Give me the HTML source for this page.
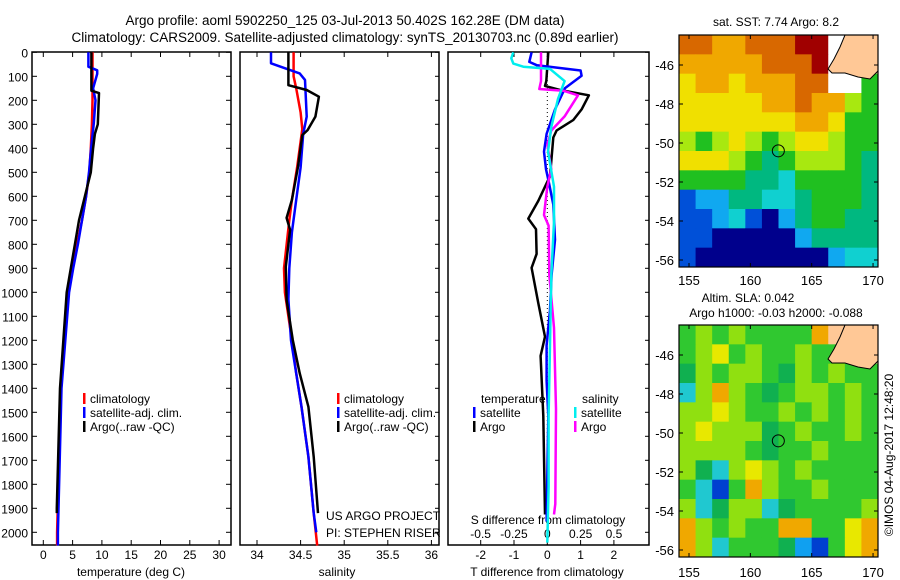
<!DOCTYPE html>
<html><head><meta charset="utf-8"><style>
body{margin:0;background:#fff;}
svg{display:block;font-family:"Liberation Sans",sans-serif;}
text{fill:#000;}
</style></head><body>
<svg id="s" width="900" height="580" viewBox="0 0 900 580">
<text x="345" y="25" font-size="13.5" text-anchor="middle">Argo profile: aoml 5902250_125 03-Jul-2013 50.402S 162.28E (DM data)</text>
<text x="345" y="42" font-size="13.5" text-anchor="middle">Climatology: CARS2009. Satellite-adjusted climatology: synTS_20130703.nc (0.89d earlier)</text>
<g id="g"></g>
</svg>
<script>
// ---- profile data (depth m, value) ----
const tempClimD=[0,80,200,300,400,500,600,700,800,900,1000,1400,2000,2055];
const tempClimV=[8.4,8.4,8.4,8.3,8.1,7.85,7.3,6.6,5.75,5.0,4.3,3.0,2.35,2.35];
const tempSatD=[0,60,75,90,150,200,300,400,500,600,700,800,900,1000,1400,2000,2055];
const tempSatV=[7.7,7.7,9.2,9.2,8.5,8.9,8.6,8.15,7.8,7.3,6.6,5.9,5.1,4.4,3.1,2.5,2.5];
const tempArgoD=[0,160,170,300,340,400,500,600,700,800,900,1000,1400,1900,1920];
const tempArgoV=[8.2,8.2,9.5,9.3,8.8,8.5,8.1,7.1,6.1,5.4,4.7,4.0,2.85,2.3,2.3];
const salClimD=[0,100,150,250,320,480,615,700,900,1000,1200,1337,1477,1685,1920,2055];
const salClimV=[34.42,34.42,34.45,34.5,34.52,34.46,34.4,34.37,34.31,34.32,34.4,34.45,34.51,34.59,34.65,34.69];
const salSatD=[0,46,74,88,115,268,340,480,615,750,900,1030,1200,1337,1477,1685,1920,2000];
const salSatV=[34.16,34.16,34.38,34.49,34.55,34.57,34.53,34.5,34.45,34.4,34.37,34.36,34.39,34.45,34.51,34.59,34.65,34.68];
const salArgoD=[0,137,157,185,268,324,345,477,615,690,740,893,1032,1199,1337,1477,1685,1920];
const salArgoV=[34.36,34.36,34.57,34.71,34.67,34.58,34.52,34.47,34.4,34.34,34.38,34.33,34.34,34.41,34.49,34.59,34.65,34.7];
const dTSatD=[0,40,54,76,98,150,238,340,414,487,531,634,781,928,1074,1221,1368,1515,1955];
const dTSatV=[-0.47,-0.54,-0.31,1.0,1.03,0.53,0.23,-0.02,-0.1,-0.04,0.03,0.18,0.23,0.13,0.08,-0.02,-0.02,0.03,-0.02];
const dTArgoD=[0,120,140,157,179,238,282,326,355,517,546,619,693,737,840,898,1045,1185,1265,1515,1926];
const dTArgoV=[0.03,-0.03,-0.07,0.38,1.25,1.03,0.78,0.28,0.18,0.08,-0.02,-0.27,-0.57,-0.34,-0.32,-0.47,-0.27,-0.07,-0.2,-0.12,-0.07];
const dSSatD=[0,25,47,60,69,120,194,311,414,560,707,928,1221,1515,1810,2043];
const dSSatV=[-0.255,-0.27,-0.255,-0.18,0.02,0.13,0.08,0.03,0.005,0.05,0.05,0.03,0.02,0.01,0.01,0.0];
const dSArgoD=[0,120,153,160,179,267,326,385,487,560,678,722,928,1148,1370,1486,1882,1926];
const dSArgoV=[-0.047,-0.047,-0.06,0.12,0.23,0.13,0.03,0.0,0.03,0.0,-0.025,0.01,0.015,0.05,0.06,0.065,0.06,0.05];
const depthTicks=[0,100,200,300,400,500,600,700,800,900,1000,1100,1200,1300,1400,1500,1600,1700,1800,1900,2000];
const tempTicks=[0,5,10,15,20,25,30];
const salTicks=[34,34.5,35,35.5,36];
const salTickLabels=["34","34.5","35","35.5","36"];
const dTTicks=[-2,-1,0,1,2];
const dSTicks=[-0.5,-0.25,0,0.25,0.5];
const dSTickLabels=["-0.5","-0.25","0","0.25","0.5"];
// ---- map data (colour level per cell, -1 land, -2 no data) ----
const sstGrid=[
[9,9,8,8,9,9,9,10,10,-2,-1,-1],
[8,8,8,8,8,9,9,9,10,-2,-1,-1],
[7,8,8,7,8,8,8,9,9,-2,-2,5],
[7,7,7,7,7,8,8,9,8,8,6,5],
[7,7,7,7,7,7,7,8,8,7,5,5],
[6,5,6,7,6,5,6,7,7,6,5,5],
[7,7,7,6,5,4,5,6,6,6,5,4],
[5,5,5,5,4,4,3,5,5,5,5,4],
[1,2,2,4,4,3,3,4,5,5,5,4],
[1,1,2,3,1,0,2,4,5,5,4,4],
[1,1,0,0,0,0,0,2,4,4,4,4],
[1,0,0,0,0,0,0,0,0,2,3,3]];
const slaGrid=[
[5,6,5,6,5,5,5,5,8,-1,-1,-1],
[5,6,7,5,6,5,5,6,5,5,-1,-1],
[4,6,5,6,6,5,4,6,5,6,5,5],
[3,6,8,6,5,4,5,6,6,5,6,5],
[6,6,7,6,5,5,6,5,6,5,6,5],
[6,7,6,6,6,4,5,6,5,5,6,5],
[6,6,6,6,5,4,5,5,6,5,5,5],
[6,4,3,6,7,6,5,6,5,5,5,5],
[5,3,1,5,8,6,5,5,6,5,5,5],
[6,3,4,6,6,3,4,5,5,5,5,6],
[8,6,5,6,5,5,8,8,5,5,7,8],
[8,6,3,5,5,5,4,2,1,5,7,8]];
const lonTicks=[155,160,165,170];
const latTicks=[-46,-48,-50,-52,-54,-56];
const argoLon=162.28, argoLat=-50.402;

const NS="http://www.w3.org/2000/svg";
const G=document.getElementById('g');
function el(t,a,p){const e=document.createElementNS(NS,t);for(const k in a)e.setAttribute(k,a[k]);(p||G).appendChild(e);return e;}
function txt(x,y,s,anchor,size){const e=el('text',{x:x,y:y,'font-size':size||12,'text-anchor':anchor||'middle'});e.textContent=s;return e;}
const yD=d=>52.3+d*0.24;
const PT=0,PB=545;
const xT=t=>43.3+t*5.86;
const xS=s=>257+(s-34)*87.2;
const xdT=v=>547.3+v*33.3;
const xdS=v=>547.3+v*133.3;

function frame(x0,x1,name){
  const r=el('rect',{x:x0,y:52,width:x1-x0,height:PB-52,fill:'none',stroke:'#000','stroke-width':1.5});
  
  
}
function line(D,V,fx,col,name){
  let p='';for(let i=0;i<D.length;i++)p+=(i?'L':'M')+fx(V[i]).toFixed(1)+' '+yD(D[i]).toFixed(1);
  const e=el('path',{d:p,fill:'none',stroke:col,'stroke-width':2.5,'stroke-linejoin':'round'});
  
  
}
function xticks(ticks,labels,fx,x0,x1,ly){
  ticks.forEach((t,i)=>{const x=fx(t);
    el('line',{x1:x,y1:52,x2:x,y2:57,stroke:'#000'});el('line',{x1:x,y1:PB,x2:x,y2:PB-5,stroke:'#000'});
    const e=txt(x,ly,labels[i]);
    
    });
}
// panels
frame(32,231,'temperature-panel');frame(240,439,'salinity-panel');frame(448,649,'difference-panel');
depthTicks.forEach(d=>{const y=yD(d);
  el('line',{x1:32,y1:y,x2:37,y2:y,stroke:'#000'});el('line',{x1:231,y1:y,x2:226,y2:y,stroke:'#000'});
  el('line',{x1:439,y1:y,x2:435,y2:y,stroke:'#000'});el('line',{x1:649,y1:y,x2:645,y2:y,stroke:'#000'});
  const e=txt(28,y+5,String(d),'end');
  
  });
xticks(tempTicks,tempTicks.map(String),xT,32,231,559);
xticks(salTicks,salTickLabels,xS,240,439,559);
xticks(dTTicks,dTTicks.map(String),xdT,448,649,559);
dSTicks.forEach((t,i)=>{const e=txt(xdS(t),538,dSTickLabels[i]);
  
  });
let e;
e=txt(131,576,'temperature (deg C)');
e=txt(337,576,'salinity');
e=txt(547,576,'T difference from climatology');
e=txt(548,524,'S difference from climatology');
el('line',{x1:xdT(0),y1:52,x2:xdT(0),y2:PB,stroke:'#000','stroke-dasharray':'1 3'});
line(tempClimD,tempClimV,xT,'#f00','temp-climatology-line');
line(tempSatD,tempSatV,xT,'#00f','temp-satellite-line');
line(tempArgoD,tempArgoV,xT,'#000','temp-argo-line');
line(salClimD,salClimV,xS,'#f00','sal-climatology-line');
line(salSatD,salSatV,xS,'#00f','sal-satellite-line');
line(salArgoD,salArgoV,xS,'#000','sal-argo-line');
line(dTArgoD,dTArgoV,xdT,'#000','tdiff-argo-line');
line(dTSatD,dTSatV,xdT,'#00f','tdiff-satellite-line');
line(dSArgoD,dSArgoV,xdS,'#f0f','sdiff-argo-line');
line(dSSatD,dSSatV,xdS,'#0ee','sdiff-satellite-line');
function leg(x,y,col,s,name){el('rect',{x:x,y:y-10,width:2.5,height:11,fill:col});const e=txt(x+7,y,s,'start');
  
  }
leg(83,403,'#f00','climatology','legend-climatology');leg(83,417,'#00f','satellite-adj. clim.','legend-satellite');leg(83,431,'#000','Argo(..raw -QC)','legend-argo');
leg(337,403,'#f00','climatology','legend-climatology-2');leg(337,417,'#00f','satellite-adj. clim.','legend-satellite-2');leg(337,431,'#000','Argo(..raw -QC)','legend-argo-2');
e=txt(326,520,'US ARGO PROJECT','start');
e=txt(326,537,'PI: STEPHEN RISER','start');
e=txt(481,403,'temperature','start');
e=txt(582,403,'salinity','start');
leg(473,417,'#00f','satellite','legend-t-satellite');leg(473,431,'#000','Argo','legend-t-argo');
leg(574,417,'#0ee','satellite','legend-s-satellite');leg(574,431,'#f0f','Argo','legend-s-argo');
// maps
const sstCol={0:'#00008c',1:'#0050d8',2:'#10a8f0',3:'#10d0d0',4:'#00b880',5:'#20c020',6:'#a8e810',7:'#f0e000',8:'#f0a800',9:'#d86800',10:'#a00000','-1':'#ffc896','-2':'#ffffff'};
const slaCol={1:'#0040d0',2:'#10a0f0',3:'#20c8d0',4:'#10b050',5:'#30c830',6:'#90e010',7:'#e8e800',8:'#f0a800','-1':'#ffc896','-2':'#ffffff'};
function map(grid,cols,top,bot,name,lonY){
  const x0=679,x1=878;
  const fx=l=>689+(l-155)*12.27;
  const fy=la=>top+30+(-46-la)*((bot-top-(30+(bot-top-225)))/10);
  const yLat=la=>{const y46=top+30, y56=bot-7;return y46+(-46-la)*(y56-y46)/10;};
  const g=el('g',{});
  const nr=grid.length,nc=grid[0].length,cw=(x1-x0)/nc,ch=(bot-top)/nr;
  grid.forEach((row,r)=>row.forEach((v,c)=>{const rc=el('rect',{x:x0+c*cw,y:top+r*ch,width:cw+0.5,height:ch+0.5,fill:cols[v]},g);
    
    }));
  el('polygon',{points:`845,${top} 878,${top} 878,${top+36} 870,${top+44} 858,${top+42} 845,${top+38} 832,${top+38} 828,${top+34} 834,${top+24} 840,${top+12}`,fill:'#ffc896',stroke:'#000','stroke-width':1},g);
  el('circle',{cx:fx(argoLon),cy:yLat(argoLat),r:6,fill:'none',stroke:'#000','stroke-width':1},g);
  el('rect',{x:x0,y:top,width:x1-x0,height:bot-top,fill:'none',stroke:'#000','stroke-width':1.2},g);
  lonTicks.forEach(l=>{const x=fx(l);el('line',{x1:x,y1:top,x2:x,y2:top+4,stroke:'#000'});el('line',{x1:x,y1:bot,x2:x,y2:bot-4,stroke:'#000'});
    const t=txt(x,lonY,String(l),'middle',13);
    
    });
  latTicks.forEach(la=>{const y=yLat(la);el('line',{x1:x0,y1:y,x2:x0+4,y2:y,stroke:'#000'});el('line',{x1:x1,y1:y,x2:x1-4,y2:y,stroke:'#000'});
    const t=txt(674,y+5,String(la),'end',13);
    
    });
}
map(sstGrid,sstCol,35,267,'sst-map',285);
map(slaGrid,slaCol,325,557,'sla-map',577);
e=txt(776,26,'sat. SST: 7.74 Argo: 8.2','middle',12);
e=txt(748,302,'Altim. SLA: 0.042','middle',12);
e=txt(776,317,'Argo h1000: -0.03 h2000: -0.088','middle',12);
e=txt(0,0,'©IMOS 04-Aug-2017 12:48:20','middle',12);e.setAttribute('transform','translate(893,455) rotate(-90)');


</script>
</body></html>
